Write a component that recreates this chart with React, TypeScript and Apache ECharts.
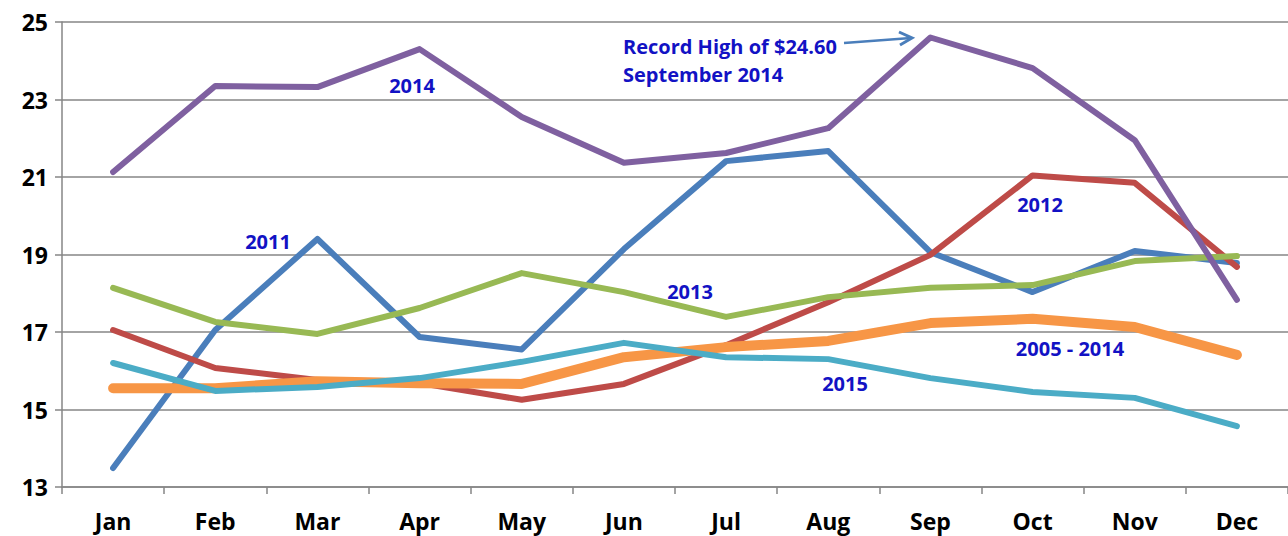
import React, { useEffect, useRef } from "react";
import * as echarts from "echarts";

const months = ["Jan", "Feb", "Mar", "Apr", "May", "Jun", "Jul", "Aug", "Sep", "Oct", "Nov", "Dec"];
const y2011 = [13.49, 17.05, 19.4, 16.87, 16.55, 19.14, 21.41, 21.67, 19.06, 18.03, 19.09, 18.78];
const y2012 = [17.05, 16.07, 15.76, 15.68, 15.25, 15.66, 16.66, 17.77, 18.99, 21.04, 20.85, 18.68];
const y2013 = [18.14, 17.26, 16.95, 17.62, 18.52, 18.03, 17.39, 17.9, 18.14, 18.21, 18.83, 18.96];
const y2014 = [21.13, 23.35, 23.32, 24.3, 22.55, 21.37, 21.62, 22.26, 24.6, 23.81, 21.95, 17.83];
const avg0514 = [15.55, 15.55, 15.73, 15.68, 15.66, 16.35, 16.61, 16.77, 17.23, 17.34, 17.13, 16.41];
const y2015 = [16.2, 15.48, 15.58, 15.81, 16.23, 16.72, 16.35, 16.3, 15.81, 15.45, 15.3, 14.57];
const yTicks = [13, 15, 17, 19, 21, 23, 25];

const labelColor = "#1212C4";
const labelFont = "bold 20px 'Open Sans', sans-serif";

export default function App() {
  const ref = useRef<HTMLDivElement>(null);
  useEffect(() => {
    const chart = echarts.init(ref.current!, null, { renderer: "svg" });
    const mk = (name: string, data: number[], color: string, width: number) => ({
      name,
      type: "line",
      data,
      symbol: "none",
      lineStyle: { color, width, cap: "round", join: "round" },
      itemStyle: { color },
    });
    const txt = (text: string, x: number, y: number, align = "center") => ({
      type: "text",
      x,
      y,
      style: { text, fill: labelColor, font: labelFont, align, verticalAlign: "middle" },
    });
    chart.setOption({
      animation: false,
      backgroundColor: "#ffffff",
      grid: { left: 62, top: 22, width: 1230, height: 465, containLabel: false },
      xAxis: {
        type: "category",
        data: months,
        boundaryGap: true,
        axisLine: { lineStyle: { color: "#868686", width: 1.5 } },
        axisTick: { show: true, length: 7, lineStyle: { color: "#868686", width: 1.5 } },
        axisLabel: {
          color: "#000",
          fontWeight: "bold",
          fontSize: 23,
          fontFamily: "'Open Sans', sans-serif",
          margin: 22,
          interval: 0,
        },
      },
      yAxis: {
        type: "value",
        min: yTicks[0],
        max: yTicks[yTicks.length - 1],
        interval: 2,
        axisLine: { show: true, lineStyle: { color: "#868686", width: 1.5 } },
        axisTick: { show: true, length: 7, lineStyle: { color: "#868686", width: 1.5 } },
        splitLine: { show: true, lineStyle: { color: "#868686", width: 1.5 } },
        axisLabel: {
          color: "#000",
          fontWeight: "bold",
          fontSize: 23,
          fontFamily: "'Open Sans', sans-serif",
          margin: 14,
        },
      },
      series: [
        mk("2011", y2011, "#4A7EBB", 6),
        mk("2012", y2012, "#BE4B48", 6),
        mk("2013", y2013, "#98B954", 6),
        mk("2014", y2014, "#7F60A0", 6),
        mk("2005 - 2014", avg0514, "#F79646", 10),
        mk("2015", y2015, "#4BACC6", 6),
      ],
      graphic: [
        txt("2014", 412, 85),
        txt("2011", 268, 241),
        txt("2012", 1040, 204),
        txt("2013", 690, 291),
        txt("2015", 845, 383),
        txt("2005 - 2014", 1070, 348),
        txt("Record High of $24.60", 623, 46, "left"),
        txt("September 2014", 623, 74, "left"),
        {
          type: "line",
          shape: { x1: 844, y1: 43, x2: 911, y2: 38 },
          style: { stroke: "#4A7EBB", lineWidth: 2.5 },
        },
        {
          type: "polyline",
          shape: { points: [[899, 32], [912, 38], [900, 45]] },
          style: { stroke: "#4A7EBB", lineWidth: 3, fill: "none" },
        },
      ],
    });
    return () => chart.dispose();
  }, []);
  return (
    <div
      ref={ref}
      style={{ position: "fixed", left: 0, top: 0, width: 1288, height: 536, background: "#fff" }}
    />
  );
}
